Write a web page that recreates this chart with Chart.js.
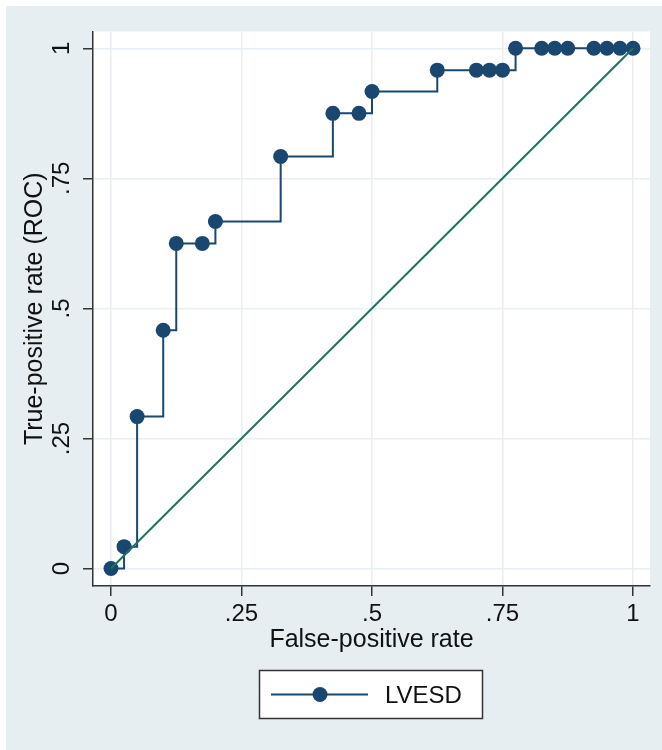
<!DOCTYPE html>
<html>
<head>
<meta charset="utf-8">
<script src="https://cdn.jsdelivr.net/npm/chart.js@4/dist/chart.umd.min.js"></script>
<style>
  html, body { margin: 0; padding: 0; background: #ffffff; }
  #wrap { width: 662px; height: 750px; }
</style>
</head>
<body>
<div id="wrap"><canvas id="c" width="662" height="750"></canvas></div>
<script>
// ---- data ----
const seriesLabel = 'LVESD';
const fpr = [0, 0.025, 0.05, 0.1, 0.125, 0.175, 0.2, 0.325, 0.425, 0.475, 0.5, 0.625, 0.7, 0.725, 0.75, 0.775, 0.825, 0.85, 0.875, 0.925, 0.95, 0.975, 1];
const tpr = [0, 0.042, 0.292, 0.458, 0.625, 0.625, 0.667, 0.792, 0.875, 0.875, 0.917, 0.958, 0.958, 0.958, 0.958, 1, 1, 1, 1, 1, 1, 1, 1];
const refX = [0, 1];
const refY = [0, 1];
const xTicks = [0, 0.25, 0.5, 0.75, 1];
const xTickLabels = ['0', '.25', '.5', '.75', '1'];
const yTicks = [0, 0.25, 0.5, 0.75, 1];
const yTickLabels = ['0', '.25', '.5', '.75', '1'];
const xTitle = 'False-positive rate';
const yTitle = 'True-positive rate (ROC)';

// ---- styling ----
const NAVY = '#1a476f';
const TEAL = '#1f7262';
const BG = '#e7eef1';
const GRID = '#e8f0f3';
const AXIS = '#333333';
const FONT = '"Liberation Sans", Arial, Helvetica, sans-serif';

const bgPlugin = {
  id: 'bg',
  beforeDraw(chart) {
    const ctx = chart.ctx;
    const a = chart.chartArea;
    ctx.save();
    ctx.fillStyle = '#ffffff';
    ctx.fillRect(0, 0, chart.width, chart.height);
    ctx.fillStyle = BG;
    ctx.fillRect(6, 6, chart.width - 6, chart.height - 6);
    ctx.fillStyle = '#ffffff';
    ctx.fillRect(a.left, a.top, a.right - a.left, a.bottom - a.top);
    ctx.restore();
  }
};

const legendPlugin = {
  id: 'customLegend',
  afterDraw(chart) {
    const ctx = chart.ctx;
    ctx.save();
    ctx.fillStyle = '#ffffff';
    ctx.fillRect(259.5, 670.5, 223, 48);
    ctx.strokeStyle = AXIS;
    ctx.lineWidth = 1.5;
    ctx.strokeRect(259.5, 670.5, 223, 48);
    ctx.strokeStyle = NAVY;
    ctx.lineWidth = 2;
    ctx.beginPath();
    ctx.moveTo(271, 694.5);
    ctx.lineTo(368, 694.5);
    ctx.stroke();
    ctx.fillStyle = NAVY;
    ctx.beginPath();
    ctx.arc(320, 694.5, 7.5, 0, Math.PI * 2);
    ctx.fill();
    ctx.fillStyle = '#111111';
    ctx.font = '24px ' + FONT;
    ctx.textAlign = 'left';
    ctx.textBaseline = 'middle';
    ctx.fillText(chart.data.datasets[1].label, 385, 696);
    ctx.restore();
  }
};

const rocPoints = fpr.map((x, i) => ({ x: x, y: tpr[i] }));
const refPoints = refX.map((x, i) => ({ x: x, y: refY[i] }));

new Chart(document.getElementById('c'), {
  type: 'line',
  data: {
    datasets: [
      {
        label: 'Reference',
        data: refPoints,
        borderColor: TEAL,
        borderWidth: 2,
        pointRadius: 0,
        fill: false,
        order: 0
      },
      {
        label: seriesLabel,
        data: rocPoints,
        borderColor: NAVY,
        backgroundColor: NAVY,
        borderWidth: 2,
        pointRadius: 7.5,
        pointBorderWidth: 0,
        pointBackgroundColor: NAVY,
        stepped: 'before',
        fill: false,
        order: 1
      }
    ]
  },
  options: {
    responsive: false,
    animation: false,
    devicePixelRatio: 1,
    layout: { padding: { top: 31.5, right: 12, bottom: 0, left: 0 } },
    plugins: {
      legend: { display: false },
      tooltip: { enabled: false }
    },
    scales: {
      x: {
        type: 'linear',
        min: -0.0345,
        max: 1.0325,
        afterBuildTicks(scale) { scale.ticks = xTicks.map(v => ({ value: v })); },
        afterFit(scale) { scale.height = 164; },
        ticks: {
          autoSkip: false,
          maxRotation: 0,
          minRotation: 0,
          padding: 4,
          color: '#111111',
          font: { family: FONT, size: 24 },
          callback(value) { const i = xTicks.indexOf(value); return i >= 0 ? xTickLabels[i] : ''; }
        },
        grid: {
          color: GRID,
          lineWidth: 1.5,
          drawTicks: true,
          tickLength: 10,
          tickColor: AXIS,
          tickWidth: 1.5
        },
        border: { display: true, color: AXIS, width: 1.5 },
        title: {
          display: true,
          text: xTitle,
          color: '#111111',
          font: { family: FONT, size: 25 },
          padding: { top: 0, bottom: 94.5 }
        }
      },
      y: {
        type: 'linear',
        min: -0.0336,
        max: 1.0323,
        afterBuildTicks(scale) { scale.ticks = yTicks.map(v => ({ value: v })); },
        afterFit(scale) { scale.width = 93; },
        ticks: {
          autoSkip: false,
          minRotation: 90,
          maxRotation: 90,
          crossAlign: 'center',
          padding: 4,
          color: '#111111',
          font: { family: FONT, size: 24 },
          callback(value) { const i = yTicks.indexOf(value); return i >= 0 ? yTickLabels[i] : ''; }
        },
        grid: {
          color: GRID,
          lineWidth: 1.5,
          drawTicks: true,
          tickLength: 10,
          tickColor: AXIS,
          tickWidth: 1.5
        },
        border: { display: true, color: AXIS, width: 1.5 },
        title: {
          display: true,
          text: yTitle,
          color: '#111111',
          font: { family: FONT, size: 25 },
          padding: { top: 20, bottom: 0 }
        }
      }
    }
  },
  plugins: [bgPlugin, legendPlugin]
});
</script>
</body>
</html>
